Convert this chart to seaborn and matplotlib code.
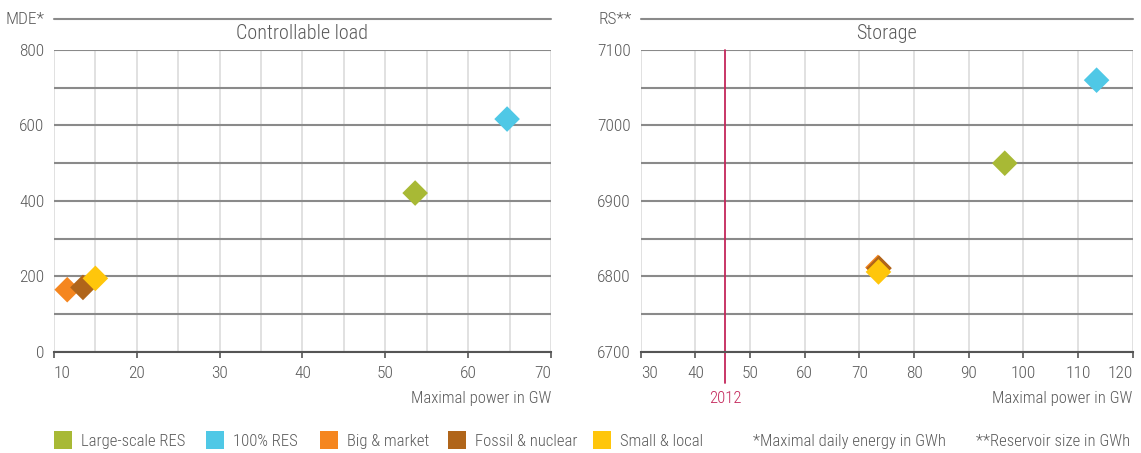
import matplotlib
matplotlib.use("Agg")
import matplotlib.pyplot as plt
import matplotlib.transforms as mtransforms
from matplotlib.lines import Line2D
import seaborn as sns
import pandas as pd

# ---- data ----
scenarios = ["Large-scale RES", "100% RES", "Big & market", "Fossil & nuclear", "Small & local"]
colors = ["#a8b935", "#4fc8e6", "#f5861f", "#b0651a", "#ffc60b"]

load_power = [53.6, 64.7, 11.6, 13.5, 15.0]      # GW
load_mde = [421, 617, 165, 171, 195]              # GWh

storage_power = [96.6, 113.4, 73.4, 73.6, 73.5]   # GW
storage_rs = [6950, 7060, 6812, 6811, 6806]       # GWh

year_line_x = 45.5
year_line_label = "2012"

left_xticks = [10, 20, 30, 40, 50, 60, 70]
left_yticks = [0, 200, 400, 600, 800]
right_xticks = [30, 40, 50, 60, 70, 80, 90, 100, 110, 120]
right_yticks = [6700, 6800, 6900, 7000, 7100]

sns.set_theme(style="white")
plt.rcParams['font.family'] = ['Roboto Condensed', 'DejaVu Sans']
plt.rcParams['font.stretch'] = 'condensed'
plt.rcParams['font.weight'] = 'light'

TXT = "#5a5a5a"
HGRID = "#8a8a8a"
VGRID = "#dcdcdc"
RED = "#c4265a"
FS_TICK = 12.5
FS = 12

df_load = pd.DataFrame({"power": load_power, "value": load_mde, "scenario": scenarios})
df_store = pd.DataFrame({"power": storage_power, "value": storage_rs, "scenario": scenarios})
palette = dict(zip(scenarios, colors))

fig = plt.figure(figsize=(11.41, 4.53), dpi=100)
axL = fig.add_axes([0.0473, 0.2230, 0.4356, 0.6667])
axR = fig.add_axes([0.5615, 0.2230, 0.4312, 0.6667])


def style(ax, xlim, ylim, xticks, yticks, xminor, yminor, title, ylab, ylab_off):
    ax.set_xlim(*xlim)
    ax.set_ylim(*ylim)
    ax.set_xticks(xticks)
    ax.set_xticks(xminor, minor=True)
    ax.set_yticks(yticks)
    ax.set_yticks(yminor, minor=True)
    for s in ["top", "right", "left"]:
        ax.spines[s].set_visible(False)
    ax.spines["bottom"].set_color("#555555")
    ax.spines["bottom"].set_linewidth(1.5)
    ax.spines["bottom"].set_zorder(5)
    ax.tick_params(axis="x", which="major", direction="out", length=4, width=1.2,
                   color="#555555", pad=6, labelsize=FS_TICK, labelcolor=TXT, bottom=True)
    ax.tick_params(axis="x", which="minor", length=0)
    ax.tick_params(axis="y", which="both", length=0, pad=7, labelsize=FS_TICK,
                   labelcolor=TXT)
    ax.grid(False)
    ax.xaxis.grid(True, which="both", color=VGRID, lw=1.2, zorder=0)
    ax.yaxis.grid(True, which="both", color=HGRID, lw=1.5, zorder=1)
    ax.set_axisbelow(True)
    ax.set_xlabel("")
    ax.set_ylabel("")
    # first label left-aligned, last label right-aligned (as in the reference)
    labels = ax.get_xticklabels()
    labels[0].set_horizontalalignment("left")
    labels[-1].set_horizontalalignment("right")
    # top band line
    ax.plot([0, 1], [1.1017, 1.1017], transform=ax.transAxes, color=HGRID, lw=1.5,
            clip_on=False)
    ax.text(0.5, 1.054, title, transform=ax.transAxes, ha="center", va="center",
            fontsize=14.5, color=TXT)
    ax.text(ylab_off, 1.1017, ylab, transform=ax.transAxes, ha="right", va="center",
            fontsize=FS_TICK, color=TXT)
    ax.text(1.0, -0.155, "Maximal power in GW", transform=ax.transAxes, ha="right",
            va="center", fontsize=FS, color=TXT)


style(axL, (10, 70), (0, 800), left_xticks, left_yticks,
      list(range(10, 70, 5)), list(range(0, 801, 100)),
      "Controllable load", "MDE*", -0.02)
style(axR, (30, 120), (6700, 7100), right_xticks, right_yticks,
      list(range(30, 120, 10)), list(range(6700, 7101, 50)),
      "Storage", "RS**", -0.018)

sns.scatterplot(data=df_load, x="power", y="value", hue="scenario", palette=palette,
                marker="D", s=170, linewidth=0, legend=False, ax=axL, zorder=4)
sns.scatterplot(data=df_store, x="power", y="value", hue="scenario", palette=palette,
                marker="D", s=170, linewidth=0, legend=False, ax=axR, zorder=4)
axL.set_xlabel(""); axL.set_ylabel("")
axR.set_xlabel(""); axR.set_ylabel("")

# 2012 marker line
tr = mtransforms.blended_transform_factory(axR.transData, axR.transAxes)
axR.plot([year_line_x, year_line_x], [-0.103, 1.0], transform=tr, color=RED, lw=1.3,
         clip_on=False, zorder=3)
axR.text(year_line_x, -0.155, year_line_label, transform=tr, ha="center", va="center",
         fontsize=FS, color=RED)

# legend: one entry per legend, placed at the reference positions
legend_x_px = [55, 207, 321, 449, 594]
for name, c, xp in zip(scenarios, colors, legend_x_px):
    h = Line2D([0], [0], marker="s", linestyle="none", markersize=13.5,
               markerfacecolor=c, markeredgewidth=0)
    leg = fig.legend([h], [name], loc="center left", bbox_to_anchor=(xp / 1141, 0.026),
                     frameon=False, fontsize=FS, handlelength=1.0, handletextpad=0.55,
                     borderaxespad=0, borderpad=0)
    for t in leg.get_texts():
        t.set_color(TXT)

fig.text(753 / 1141, 0.026, "*Maximal daily energy in GWh", ha="left", va="center",
         fontsize=FS, color=TXT)
fig.text(976 / 1141, 0.026, "**Reservoir size in GWh", ha="left", va="center",
         fontsize=FS, color=TXT)

fig.savefig("out.png", dpi=100)
